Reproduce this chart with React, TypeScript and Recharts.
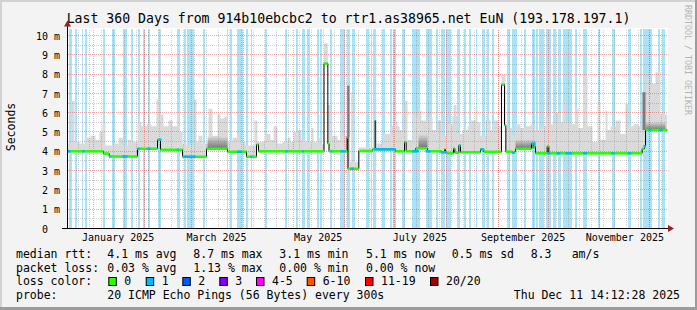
import React from 'react';
import { ComposedChart, Line, Area, XAxis, YAxis, ReferenceArea, ReferenceLine } from 'recharts';

// ---------- time base ----------
const START_MS = Date.UTC(2024, 11, 16, 14, 12, 28);
const DAY_MS = 86400000;
const daysFrom = (y: number, m: number, d: number) => (Date.UTC(y, m, d) - START_MS) / DAY_MS;
const SPAN_DAYS = 360;
const Y_MAX = 10.36;

// ---------- axis labels ----------
const xLabelText = ['January 2025', 'March 2025', 'May 2025', 'July 2025', 'September 2025', 'November 2025'];
const xLabelDates: [number, number, number][] = [
  [2025, 0, 16], [2025, 2, 16], [2025, 4, 16], [2025, 6, 16], [2025, 8, 16], [2025, 10, 16],
];
const monthStartDates: [number, number, number][] = [
  [2025, 0, 1], [2025, 1, 1], [2025, 2, 1], [2025, 3, 1], [2025, 4, 1], [2025, 5, 1],
  [2025, 6, 1], [2025, 7, 1], [2025, 8, 1], [2025, 9, 1], [2025, 10, 1], [2025, 11, 1],
];
const firstWeekDate: [number, number, number] = [2024, 11, 23];
const yTickValues = [0, 1, 2, 3, 4, 5, 6, 7, 8, 9, 10];
const yTickText = ['0', '1 m', '2 m', '3 m', '4 m', '5 m', '6 m', '7 m', '8 m', '9 m', '10 m'];
const yMinorValues = [0.5, 1.5, 2.5, 3.5, 4.5, 5.5, 6.5, 7.5, 8.5, 9.5];

// ---------- data (day offset, milliseconds) ----------
// median rtt: [startDay, ms] held until next entry
const medianSteps: [number, number][] = [
  [0, 4.0], [21.6, 3.88], [25, 3.73], [42, 4.13], [54, 4.6], [55.8, 4.08], [69, 3.72], [83.4, 4.13],
  [96, 3.98], [107.4, 3.72], [113.4, 4.35], [114.6, 4.0], [153.9, 8.55], [156.2, 4.4], [156.9, 4.0],
  [167.8, 4.73], [168.3, 3.1], [174.8, 4.02], [183, 4.1], [196.8, 4.0], [202.2, 4.47], [203.2, 4.0],
  [209, 4.16], [216, 4.0], [224.8, 3.95], [226.2, 4.1], [226.8, 3.95], [227.8, 3.9], [231.6, 4.14],
  [232.4, 3.92], [234.8, 4.3], [235.8, 3.95], [247.8, 4.1], [249.8, 3.97], [260.4, 7.45], [262.2, 5.35],
  [263, 3.98], [266.8, 3.92], [268.2, 3.98], [268.8, 4.13], [278.4, 4.4], [279.9, 4.25], [280.8, 3.9],
  [287.8, 4.26], [288.8, 3.9], [344.8, 4.13], [346.2, 4.26], [346.8, 5.1],
];
// ranges where the median was drawn in the "1 lost" colour
const blueMedianRanges: [number, number][] = [
  [0, 1.8], [9, 10.2], [25, 26], [33, 36], [42, 43.2], [48, 49.8], [54.6, 56.4], [65.8, 66.6],
  [69.6, 76.8], [101.8, 104.8], [109.8, 111], [130.8, 132], [140.8, 141.8], [157.8, 158.8],
  [163.8, 166.8], [167.8, 168.3], [169.8, 171.8], [183.8, 196.8], [206.8, 210.8], [214.8, 217.8],
  [223.8, 227.8], [234.8, 235.8], [247.8, 249.8], [266.8, 268.2], [278.8, 280.8], [287.8, 289.8],
  [293.4, 295.8], [298.8, 302.8], [309.2, 311.8], [326.4, 328.2], [336.2, 338.2], [345.6, 346.8],
  [348.6, 350.4], [355.2, 357],
];
// loss background stripes [fromDay, toDay]
const lossStripes: [number, number][] = [
  [1.0, 2.4], [4.4, 5.4], [8.4, 9.4], [10.4, 11.4], [21, 22.2], [26.6, 28.4], [33, 35.4], [38, 39],
  [42, 43.4], [45, 46.4], [48, 49.4], [54, 56.2], [65.8, 67.2], [69.8, 71.2], [71.8, 75.8], [81.4, 82.2],
  [95.4, 96.4], [97.2, 98.4], [101.8, 105.2], [107.2, 108.2], [109.8, 110.8], [118.2, 119.8],
  [130.2, 131.8], [137.2, 138.2], [140.8, 142.4], [143.8, 145.2], [149.4, 150.8], [151.2, 152.4],
  [157.4, 158.8], [163.2, 166.2], [167.4, 169.4], [170.4, 172.4], [178.8, 180.8], [181.8, 182.8],
  [183.2, 185.2], [188.8, 190.2], [193.2, 194.8], [195.4, 197.2], [200.8, 202.2], [206.8, 211.2],
  [214.8, 218.4], [220.8, 222.2], [223.8, 226.2], [227.2, 230.2], [233.8, 235.4], [237.8, 238.8],
  [240.8, 241.8], [244.8, 245.8], [248.8, 250.2], [251.8, 252.8], [254.4, 255.8], [263.8, 265.2],
  [266.8, 269.8], [273.8, 275.2], [278.8, 280.2], [281.2, 282.4], [282.8, 285.8], [286.8, 289.8],
  [291.2, 292.8], [294.4, 295.8], [297.2, 302.8], [304.2, 305.8], [309.2, 311.8], [318.2, 319.4],
  [326.4, 328.2], [336.2, 338.2], [343.2, 344.4], [345.2, 350.4], [354.4, 355.6], [356.8, 358.2],
];
// upper edge of the light smoke: [startDay, ms]
const smokeSteps: [number, number][] = [
  [0, 4.4], [2.4, 6.6], [4.2, 4.5], [7.2, 4.4], [10.2, 4.7], [13.8, 4.8], [16.8, 4.6], [19.2, 5.0],
  [21, 5.4], [22.8, 4.3], [27, 4.4], [30.6, 4.7], [33.6, 4.3], [36, 4.6], [39.6, 4.5], [42, 5.5],
  [44.4, 5.3], [47.4, 5.4], [50.4, 5.3], [53.4, 6.7], [54.6, 10.4], [55.8, 5.9], [57.6, 5.3], [60.6, 5.6],
  [63, 5.3], [66, 5.9], [67.2, 5.0], [69, 4.4], [71.4, 4.3], [75.6, 6.7], [77.4, 4.5], [78.6, 4.8],
  [81, 4.4], [84.6, 6.2], [87, 4.8], [90, 5.9], [91.8, 5.7], [94.2, 5.8], [96, 4.5], [99, 4.7],
  [102, 4.9], [103.2, 4.5], [106.8, 4.3], [112.2, 5.6], [114, 4.5], [118.8, 4.9], [121.8, 4.6],
  [123.6, 5.3], [126, 4.4], [129, 4.5], [132, 4.7], [133.8, 4.5], [135.6, 5.0], [138.6, 5.1],
  [140.4, 4.6], [142.8, 4.5], [146.4, 5.2], [147.6, 4.5], [150.6, 4.7], [151.8, 4.35], [153.9, 9.6],
  [156.2, 6.4], [157.8, 4.8], [162, 4.6], [163.8, 5.9], [165, 4.8], [167.8, 7.4], [169.2, 3.45],
  [170.2, 7.06], [171.2, 3.45], [174.8, 4.2], [185.4, 4.4], [189.6, 4.9], [193.8, 5.3], [195.6, 5.6],
  [198, 5.3], [199.2, 5.1], [201.6, 6.6], [204, 4.6], [207, 5.9], [209.4, 5.8], [210.6, 6.1],
  [212.4, 5.6], [216, 5.8], [219, 5.1], [222, 5.6], [225, 4.8], [228, 5.4], [231, 5.8], [231.6, 6.4],
  [233.4, 5.8], [234, 4.9], [237, 5.1], [240, 5.3], [241.8, 5.6], [244.8, 6.3], [246, 5.5], [247.8, 4.8],
  [250.8, 5.6], [253.8, 5.1], [255.6, 5.6], [258.6, 5.3], [260.4, 7.95], [262.8, 5.2], [267, 4.8],
  [268.8, 5.4], [271.8, 5.2], [274.8, 5.3], [277.8, 5.4], [280.8, 5.1], [283.8, 5.3], [286.8, 5.8],
  [289.8, 5.4], [292.8, 6.0], [295.8, 5.5], [297, 6.45], [298.8, 5.5], [301.8, 5.4], [304.8, 6.2],
  [306.6, 5.2], [309.6, 7.9], [312, 5.3], [315, 4.5], [318, 6.55], [319.8, 4.6], [322.8, 6.1], [324, 5.1],
  [325.8, 5.3], [328.8, 5.6], [331.8, 4.9], [334.8, 6.45], [336.6, 5.3], [339.6, 5.4], [342.6, 5.3],
  [345, 7.06], [346.8, 7.8], [349.8, 7.5], [352.8, 8.1], [355.8, 5.9],
];
// dense smoke bands near the median [fromDay, toDay, lowMs, highMs]
const denseSmokeBands: [number, number, number, number][] = [
  [84, 96, 4.15, 4.75], [210.6, 216, 4.2, 4.85], [268.8, 280.8, 4.15, 4.6], [346.8, 358.8, 5.1, 5.5],
];
// single dark smoke columns [fromDay, toDay, lowMs, highMs]
const darkSmokeColumns: [number, number, number, number][] = [
  [167.8, 169.2, 4.73, 7.4], [184.2, 185.2, 4.1, 5.6], [345, 346.8, 5.1, 7.06],
];

// ---------- legend texts ----------
const rttStats = ['4.1 ms avg', '8.7 ms max', '3.1 ms min', '5.1 ms now', '0.5 ms sd', '8.3', 'am/s'];
const lossStats = ['0.03 % avg', '1.13 % max', '0.00 % min', '0.00 % now'];
const lossLabels = ['0', '1', '2', '3', '4-5', '6-10', '11-19', '20/20'];
const lossColors = ['#26ff00', '#00b8ff', '#0059ff', '#7e00ff', '#ff00ff', '#ff5500', '#ff0000', '#a10000'];
const titleText = 'Last 360 Days from 914b10ebcbc2 to rtr1.as38965.net EuN (193.178.197.1)';
const probeText = '20 ICMP Echo Pings (56 Bytes) every 300s';
const dateText = 'Thu Dec 11 14:12:28 2025';

// ---------- derived tables ----------
const stepValueAt = (steps: [number, number][], day: number) => {
  let v = steps[0][1];
  for (const [d, val] of steps) {
    if (d <= day + 1e-9) v = val;
    else break;
  }
  return v;
};
const xLabelDays = xLabelDates.map(([y, m, d]) => daysFrom(y, m, d));
const monthStartDays = monthStartDates.map(([y, m, d]) => daysFrom(y, m, d));
const weekDays: number[] = [];
for (let d = daysFrom(...firstWeekDate); d < SPAN_DAYS; d += 7) weekDays.push(d);

const lastMedian = medianSteps[medianSteps.length - 1][1];
const medianRows = [...medianSteps.map(([d, v]) => ({ day: d, ms: v })), { day: SPAN_DAYS, ms: lastMedian }];
const greenRows = medianSteps.flatMap(([d, v], i) => {
  const e = i + 1 < medianSteps.length ? medianSteps[i + 1][0] : SPAN_DAYS;
  return [{ day: d, ms: v }, { day: e, ms: v }, { day: e, ms: null as number | null }];
});
const blueRows = blueMedianRanges.flatMap(([a, b]) => {
  const v = stepValueAt(medianSteps, (a + b) / 2);
  return [{ day: a, ms: v }, { day: b, ms: v }, { day: b, ms: null as number | null }];
});
const smokeDays = Array.from(
  new Set([...smokeSteps.map((s) => s[0]), ...medianSteps.map((s) => s[0]), SPAN_DAYS]),
).sort((a, b) => a - b);
const smokeRows = smokeDays.map((d) => ({
  day: d,
  range: [stepValueAt(medianSteps, d) - 0.08, stepValueAt(smokeSteps, d)],
}));

const MONO = '"DejaVu Sans Mono", monospace';

const renderYTick = (props: any) => {
  const { x, y, payload } = props;
  const i = yTickValues.indexOf(payload.value);
  const label = yTickText[i];
  return (
    <text x={payload.value === 0 ? x - 12 : x} y={y + 4.2} textAnchor="end" fontFamily={MONO} fontSize={10} fill="#000">
      {label}
    </text>
  );
};
const renderXTick = (props: any) => {
  const { x, y, payload } = props;
  let i = 0;
  let best = Infinity;
  xLabelDays.forEach((d, k) => {
    const diff = Math.abs(d - payload.value);
    if (diff < best) { best = diff; i = k; }
  });
  return (
    <text x={x} y={y + 12} textAnchor="middle" fontFamily={MONO} fontSize={10} fill="#000">
      {xLabelText[i]}
    </text>
  );
};

const legendRow1X = [107.3, 193.3, 279.3, 366, 451.7, 530.7, 571.7];
const lossSquareX = [108.3, 145.7, 182.3, 219.3, 256, 306.7, 365, 430];

function Background() {
  return (
    <svg width={697} height={310} style={{ position: 'absolute', left: 0, top: 0 }}>
      <rect x={0} y={0} width={697} height={310} fill="#f3f3f3" />
      <rect x={0} y={0} width={697} height={2} fill="#d2d2d2" />
      <rect x={0} y={0} width={2} height={310} fill="#d2d2d2" />
      <rect x={0} y={307} width={697} height={3} fill="#9c9c9c" />
      <rect x={695} y={0} width={2} height={310} fill="#9c9c9c" />
      <rect x={67} y={28} width={601} height={201} fill="#ffffff" />
      <text x={348.5} y={23} textAnchor="middle" fontFamily={MONO} fontSize={13.2} fill="#000">{titleText}</text>
      <text transform="translate(684.5,5) rotate(90)" fontFamily={MONO} fontSize={8.3} fill="#b4b4b4">RRDTOOL / TOBI OETIKER</text>
      <text transform="translate(14.5,127) rotate(-90)" textAnchor="middle" fontFamily={MONO} fontSize={11.5} fill="#000">Seconds</text>
      {/* legend */}
      <g fontFamily={MONO} fontSize={11.5} fill="#000">
        <text x={16} y={258}>median rtt:</text>
        {rttStats.map((t, i) => <text key={'r' + i} x={legendRow1X[i]} y={258}>{t}</text>)}
        <text x={16} y={271.5}>packet loss:</text>
        {lossStats.map((t, i) => <text key={'l' + i} x={legendRow1X[i]} y={271.5}>{t}</text>)}
        <text x={16} y={285}>loss color:</text>
        {lossLabels.map((t, i) => (
          <g key={'c' + i}>
            <rect x={lossSquareX[i] + 0.5} y={277.5} width={7.5} height={8} fill={lossColors[i]} stroke="#000" strokeWidth={1} />
            <text x={lossSquareX[i] + 16} y={285}>{t}</text>
          </g>
        ))}
        <text x={16} y={299}>probe:</text>
        <text x={107.3} y={299}>{probeText}</text>
        <text x={680} y={299} textAnchor="end">{dateText}</text>
      </g>
    </svg>
  );
}

function Decorations() {
  return (
    <svg width={697} height={310} style={{ position: 'absolute', left: 0, top: 0, pointerEvents: 'none' }}>
      <line x1={62} y1={228.5} x2={668} y2={228.5} stroke="#000" strokeWidth={1} />
      <line x1={67.5} y1={22} x2={67.5} y2={229} stroke="#000" strokeWidth={1} />
      <polygon points="64,26.5 71,26.5 67.5,20.5" fill="#9b2020" />
      <polygon points="668,225 668,232 674,228.5" fill="#9b2020" />
    </svg>
  );
}

export default function App() {
  const gridRed = 'rgba(235,60,60,0.45)';
  const gridGrey = 'rgba(120,120,120,0.35)';
  return (
    <div style={{ position: 'absolute', left: 0, top: 0, width: 697, height: 310 }}>
      <Background />
      <div style={{ position: 'absolute', left: 0, top: 0 }}>
        <ComposedChart width={697} height={310} margin={{ top: 28.5, right: 29.5, bottom: 61.5, left: 0 }}>
          <defs>
            <linearGradient id="denseSmoke" x1="0" y1="0" x2="0" y2="1">
              <stop offset="0%" stopColor="#d4d4d4" />
              <stop offset="60%" stopColor="#858585" />
              <stop offset="100%" stopColor="#555555" />
            </linearGradient>
          </defs>
          <XAxis
            type="number"
            dataKey="day"
            domain={[0, SPAN_DAYS]}
            ticks={xLabelDays}
            interval={0}
            allowDataOverflow
            tickLine={false}
            axisLine={false}
            tickSize={0}
            tickMargin={0}
            height={20}
            tick={renderXTick}
          />
          <YAxis
            type="number"
            domain={[0, Y_MAX]}
            ticks={yTickValues}
            interval={0}
            allowDataOverflow
            width={67.5}
            tickLine={false}
            axisLine={false}
            tickSize={0}
            tickMargin={7.5}
            tick={renderYTick}
          />
          {lossStripes.map(([a, b], i) => (
            <ReferenceArea key={'s' + i} x1={a} x2={b} fill="#a8e3f8" fillOpacity={1} stroke="none" zIndex={50} ifOverflow="hidden" shapeRendering="crispEdges" />
          ))}
          <Area
            data={smokeRows}
            dataKey="range"
            type="stepAfter"
            fill="#dadada"
            fillOpacity={1}
            stroke="none"
            isAnimationActive={false}
            dot={false}
            activeDot={false}
            zIndex={100}
          />
          {denseSmokeBands.map(([a, b, lo, hi], i) => (
            <ReferenceArea key={'d' + i} x1={a} x2={b} y1={lo} y2={hi} fill="url(#denseSmoke)" fillOpacity={0.75} stroke="none" zIndex={150} />
          ))}
          {darkSmokeColumns.map(([a, b, lo, hi], i) => (
            <ReferenceArea key={'k' + i} x1={a} x2={b} y1={lo} y2={hi} fill={i === 1 ? '#3a3a3a' : '#7c7c7c'} fillOpacity={1} stroke="none" zIndex={150} />
          ))}
          {yMinorValues.map((v) => (
            <ReferenceLine key={'ym' + v} y={v} stroke={gridGrey} strokeDasharray="1 1" zIndex={350} shapeRendering="crispEdges" />
          ))}
          {weekDays.map((d) => (
            <ReferenceLine key={'w' + d} x={d} stroke={gridGrey} strokeDasharray="1 1" zIndex={350} shapeRendering="crispEdges" />
          ))}
          {yTickValues.filter((v) => v > 0).map((v) => (
            <ReferenceLine key={'yM' + v} y={v} stroke={gridRed} strokeDasharray="1 1" zIndex={360} shapeRendering="crispEdges" />
          ))}
          {monthStartDays.map((d) => (
            <ReferenceLine key={'m' + d} x={d} stroke={gridRed} strokeDasharray="1 1" zIndex={360} shapeRendering="crispEdges" />
          ))}
          <Line data={medianRows} dataKey="ms" type="stepAfter" stroke="#000" strokeWidth={1} dot={false} activeDot={false} isAnimationActive={false} zIndex={400} />
          <Line data={greenRows} dataKey="ms" type="linear" stroke="#26ff00" strokeWidth={2.5} dot={false} activeDot={false} connectNulls={false} isAnimationActive={false} zIndex={410} />
          <Line data={blueRows} dataKey="ms" type="linear" stroke="#00b8ff" strokeWidth={2.5} dot={false} activeDot={false} connectNulls={false} isAnimationActive={false} zIndex={420} />
        </ComposedChart>
      </div>
      <Decorations />
    </div>
  );
}
